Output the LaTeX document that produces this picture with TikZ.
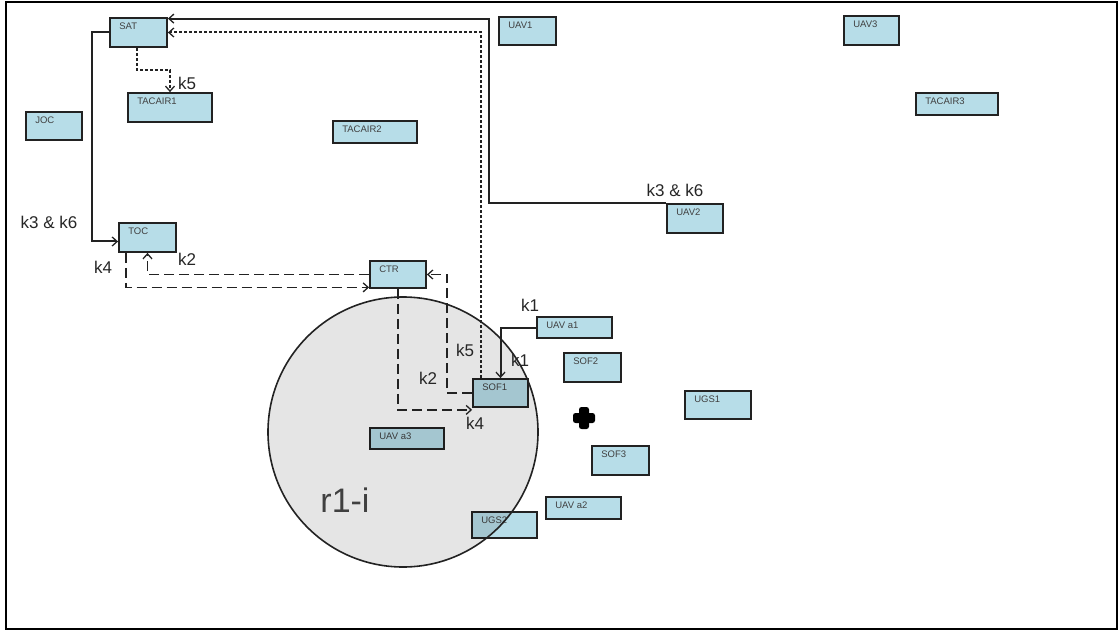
\documentclass[tikz,border=0pt]{standalone}
\usepackage{fontspec}
\setmainfont{Liberation Sans}
\usetikzlibrary{arrows.meta,calc}
\definecolor{boxfill}{HTML}{B7DDE8}
\definecolor{boxline}{HTML}{222222}
\definecolor{wire}{HTML}{222222}
\begin{document}
\begin{tikzpicture}[x=1pt,y=-1pt,
  box/.style={draw=boxline,line width=1.8pt,fill=boxfill,inner sep=0pt},
  boxtxt/.style={anchor=north west,font=\fontsize{9.5}{10}\selectfont,text=black!75,inner sep=0pt},
  klab/.style={font=\fontsize{17}{18}\selectfont,text=black!85,inner sep=0pt},
  tip/.style={-{Straight Barb[length=5pt,width=9pt,line width=1.3pt]}},
  solidw/.style={draw=wire,line width=2pt,tip},
  longdash/.style={draw=wire,line width=1.8pt,dash pattern=on 10pt off 5pt,tip},
  shortdash/.style={draw=wire,line width=2pt,dash pattern=on 3pt off 2pt,tip}]
\useasboundingbox (0,0) rectangle (1119,631);
\draw[line width=2.2pt,draw=black] (6,2) rectangle (1117,629);
% boxes: name, center, width, height, text
\newcommand{\mybox}[5]{%
  \node[box,minimum width=#3pt,minimum height=#4pt] (#1) at (#2) {};
  \node[boxtxt] (#1-t) at ($(#1.north west)+(10,6)$) {#5};}
\mybox{SAT}{138.5,32.5}{57}{29}{SAT}
\mybox{TACAIR1}{170,107.5}{84}{29}{TACAIR1}
\mybox{JOC}{54,126}{56}{28}{JOC}
\mybox{TACAIR2}{375,132}{84}{22}{TACAIR2}
\mybox{UAV1}{527.5,31}{57}{28}{UAV1}
\mybox{UAV3}{871.5,30.5}{55}{29}{UAV3}
\mybox{TACAIR3}{957,104}{82}{22}{TACAIR3}
\mybox{UAV2}{695,218.5}{56}{29}{UAV2}
\mybox{TOC}{147.5,237.5}{57}{29}{TOC}
\mybox{CTR}{398,274.5}{56}{27}{CTR}
\mybox{UAVa1}{574.5,327.5}{75}{21}{UAV a1}
\mybox{SOF1}{500.5,393}{55}{28}{SOF1}
\mybox{SOF2}{592.5,367.5}{57}{29}{SOF2}
\mybox{SOF3}{620.5,460.5}{57}{29}{SOF3}
\mybox{UGS1}{718,405}{66}{28}{UGS1}
\mybox{UGS2}{504.5,525}{65}{26}{UGS2}
\mybox{UAVa2}{583.5,508}{75}{22}{UAV a2}
\mybox{UAVa3}{407,438.5}{74}{21}{UAV a3}
% region circle
\node[circle,draw=wire,line width=1.6pt,fill=black,fill opacity=0.1,draw opacity=1,minimum size=270pt,inner sep=0pt] (R) at (403,432) {};
\node[font=\fontsize{34}{36}\selectfont,text=black!75,inner sep=0pt] (Rlab) at (345,500) {r1-i};
% blob
\fill[black,rounded corners=2.5pt] (573,413) rectangle (595,423);
\fill[black,rounded corners=2.5pt] (579,407) rectangle (589,429);
% connectors
\draw[solidw] (UAV2.north west) -- ++(-177,0) |- ($(SAT.north east)+(0,1.5)$);
\draw[shortdash] ($(SOF1.north west)+(9,0)$) |- (SAT.east);
\draw[solidw] (SAT.west) -- ++(-17,0) |- ($(TOC.west)+(0,4)$);
\draw[shortdash] ($(SAT.south)+(-1.5,0)$) |- ($(TACAIR1.north)+(0,-22)$) -- (TACAIR1.north);
\draw[longdash] (CTR.west) -| (TOC.south);
\draw[longdash] ($(TOC.south west)+(8,0)$) |- ($(CTR.south west)+(0,-1.5)$);
\draw[longdash] (SOF1.west) -- ++(-25,0) |- (CTR.east);
\draw[longdash] (CTR.south) |- ($(SOF1.south west)+(0,2)$);
\draw[solidw] (UAVa1.west) -| (SOF1.north);
% labels
\node[klab] (l1) at (187,83) {k5};
\node[klab] (l2) at (49,222) {k3 \& k6};
\node[klab] (l3) at (103,267) {k4};
\node[klab] (l4) at (187,259) {k2};
\node[klab] (l5) at (675,190) {k3 \& k6};
\node[klab] (l6) at (530,305) {k1};
\node[klab] (l7) at (520,360) {k1};
\node[klab] (l8) at (465,350) {k5};
\node[klab] (l9) at (428,378) {k2};
\node[klab] (l10) at (475,423) {k4};
\end{tikzpicture}
\end{document}
